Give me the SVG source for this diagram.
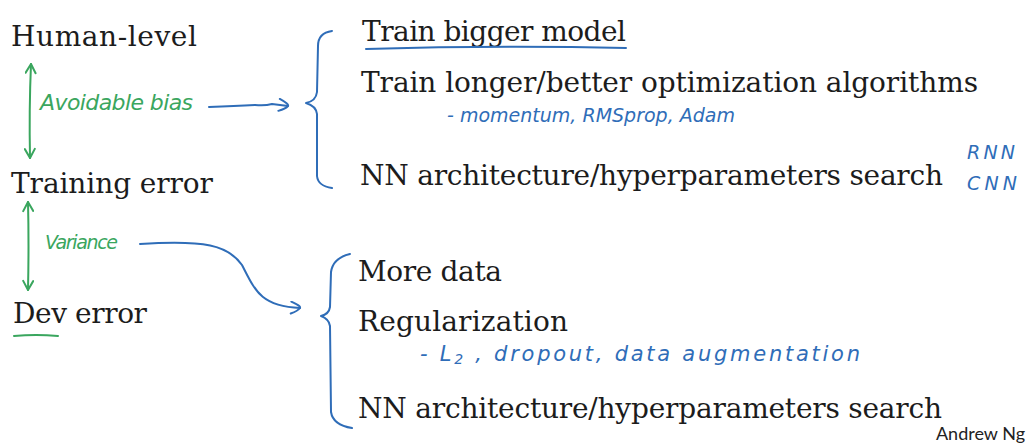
<svg xmlns="http://www.w3.org/2000/svg" width="1032" height="444" viewBox="0 0 1032 444">
<style>
.main{font-family:"DejaVu Serif","Liberation Serif",serif;font-size:28px;fill:#1c1c1c}
.hg{font-family:"DejaVu Sans","Liberation Sans",sans-serif;font-style:italic;fill:#3aa65e}
.hb{font-family:"DejaVu Sans","Liberation Sans",sans-serif;font-style:italic;fill:#2f6db8}
.gl{fill:none;stroke:#3aa65e;stroke-width:2;stroke-linecap:round;stroke-linejoin:round}
.bl{fill:none;stroke:#2f6db8;stroke-width:2;stroke-linecap:round;stroke-linejoin:round}
.sig{font-family:"Lato","Liberation Sans",sans-serif;font-size:18px;fill:#222}
</style>
<defs>
<marker id="ga" viewBox="0 0 12 12" refX="11" refY="6" markerWidth="12" markerHeight="12" markerUnits="userSpaceOnUse" orient="auto-start-reverse">
<path d="M2,1 L11,6 L2,11" fill="none" stroke="#3aa65e" stroke-width="2" stroke-linecap="round" stroke-linejoin="round"/>
</marker>
<marker id="ba" viewBox="0 0 14 14" refX="12" refY="7" markerWidth="14" markerHeight="14" markerUnits="userSpaceOnUse" orient="auto">
<path d="M3,1 Q13,5 12,7 Q10,10 3,13" fill="none" stroke="#2f6db8" stroke-width="2" stroke-linecap="round" stroke-linejoin="round"/>
</marker>
</defs>
<rect width="1032" height="444" fill="#ffffff"/>

<g id="human-level"><text class="main" x="11" y="46" textLength="186">Human-level</text></g>
<g id="training-error"><text class="main" x="11" y="193" textLength="202">Training error</text></g>
<g id="dev-error"><text class="main" x="13" y="323" textLength="134">Dev error</text>
<path class="gl" d="M14,336 Q36,334 58,336"/></g>

<g id="bias-fixes">
<path class="bl" d="M332,31 Q318,33 318,46 L317,92 Q316,101 306,103 Q316,106 317,114 L317,176 Q318,186 332,188"/>
<text class="main" x="362" y="41" textLength="264">Train bigger model</text>
<path class="bl" d="M366,49 Q500,45 626,48"/>
<text class="main" x="361" y="92" textLength="617">Train longer/better optimization algorithms</text>
<text class="hb" x="447" y="122" font-size="19" textLength="288">- momentum, RMSprop, Adam</text>
<text class="main" x="360" y="185" textLength="583">NN architecture/hyperparameters search</text>
<text class="hb" x="967" y="159" font-size="19" textLength="48">RNN</text>
<text class="hb" x="967" y="190" font-size="19" textLength="50">CNN</text>
</g>

<g id="variance-fixes">
<path class="bl" d="M350,254 Q333,258 331,272 L330,307 Q329,314 321,316 Q329,319 330,326 L331,412 Q333,425 352,428"/>
<text class="main" x="358" y="281" textLength="144">More data</text>
<text class="main" x="358" y="331" textLength="210">Regularization</text>
<text class="hb" x="420" y="361" font-size="21" textLength="440">- L<tspan font-size="14" dy="3">2</tspan><tspan dy="-3"> , dropout, data augmentation</tspan></text>
<text class="main" x="358" y="418" textLength="584">NN architecture/hyperparameters search</text>
</g>

<g id="connectors">
<path class="gl" d="M31,64 Q29,110 30,158" marker-start="url(#ga)" marker-end="url(#ga)"/>
<path class="gl" d="M28,202 Q29,245 28,290" marker-start="url(#ga)" marker-end="url(#ga)"/>
<text class="hg" x="40" y="110" font-size="22" textLength="153">Avoidable bias</text>
<text class="hg" x="45" y="249" font-size="19" textLength="73">Variance</text>
<path class="bl" d="M209,107 Q235,106 255,105 Q265,106 272,104 Q280,105 288,106" marker-end="url(#ba)"/>
<path class="bl" d="M140,244 C205,240 228,245 242,265 C255,290 260,306 300,308" marker-end="url(#ba)"/>
</g>

<g id="signature"><text class="sig" x="1025" y="440" text-anchor="end">Andrew Ng</text></g>
</svg>
